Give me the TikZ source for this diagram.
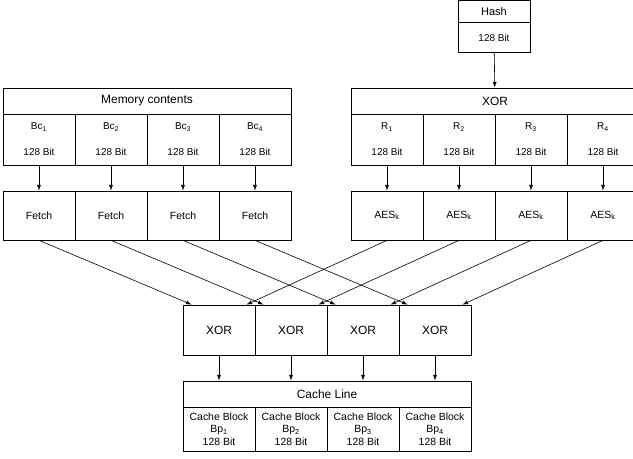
\documentclass[tikz,border=0pt]{standalone}
\usepackage{fontspec}
\setmainfont{Liberation Sans}
\usepackage{tikz}
\usetikzlibrary{arrows}
\usetikzlibrary{arrows.meta}

\begin{document}
\begin{tikzpicture}[x=1bp,y=-1bp]
\tikzset{>={Latex[width=1.4mm,length=2mm]}}
\tikzstyle{box} =[draw, rectangle, line width=0.7bp, inner sep=0pt, align=center, minimum width=72bp]
\tikzstyle{head} =[box, minimum width=288bp, minimum height=26bp, font=\fontsize{12}{14}\selectfont]
\tikzstyle{cell} =[box, minimum height=51bp, font=\fontsize{10}{12}\selectfont]
\tikzstyle{unit} =[box, minimum height=49bp, font=\fontsize{10.5}{12}\selectfont]
\tikzstyle{line} =[->, line width=0.6bp]

\useasboundingbox (0,0) rectangle (633,459);

% hash
\node[box, minimum height=22bp, font=\fontsize{11}{13}\selectfont](hash) at (494,11.5){Hash};
\node[box, minimum height=30bp, font=\fontsize{10}{12}\selectfont](hashbit) at (494,37.5){128 Bit};

% memory side
\node[head](mem) at (147,101){Memory contents};
\node[cell](bc1) at (39,139.5){Bc\textsubscript{1}\\[14pt]128 Bit};
\node[cell](bc2) at (111,139.5){Bc\textsubscript{2}\\[14pt]128 Bit};
\node[cell](bc3) at (183,139.5){Bc\textsubscript{3}\\[14pt]128 Bit};
\node[cell](bc4) at (255,139.5){Bc\textsubscript{4}\\[14pt]128 Bit};
\node[unit](f1) at (39,215.5){Fetch};
\node[unit](f2) at (111,215.5){Fetch};
\node[unit](f3) at (183,215.5){Fetch};
\node[unit](f4) at (255,215.5){Fetch};

% key side
\node[head](xr) at (495,101){XOR};
\node[cell](r1) at (387,139.5){R\textsubscript{1}\\[14pt]128 Bit};
\node[cell](r2) at (459,139.5){R\textsubscript{2}\\[14pt]128 Bit};
\node[cell](r3) at (531,139.5){R\textsubscript{3}\\[14pt]128 Bit};
\node[cell](r4) at (603,139.5){R\textsubscript{4}\\[14pt]128 Bit};
\node[unit](a1) at (387,215.5){AES\textsubscript{k}};
\node[unit](a2) at (459,215.5){AES\textsubscript{k}};
\node[unit](a3) at (531,215.5){AES\textsubscript{k}};
\node[unit](a4) at (603,215.5){AES\textsubscript{k}};

% combine
\node[box, minimum height=50bp, font=\fontsize{12}{14}\selectfont](x1) at (219,330){XOR};
\node[box, minimum height=50bp, font=\fontsize{12}{14}\selectfont](x2) at (291,330){XOR};
\node[box, minimum height=50bp, font=\fontsize{12}{14}\selectfont](x3) at (363,330){XOR};
\node[box, minimum height=50bp, font=\fontsize{12}{14}\selectfont](x4) at (435,330){XOR};

% cache line
\node[head](cl) at (327,394){Cache Line};
\node[box, minimum height=44bp, font=\fontsize{10.5}{12.5}\selectfont](bp1) at (219,429){Cache Block\\Bp\textsubscript{1}\\128 Bit};
\node[box, minimum height=44bp, font=\fontsize{10.5}{12.5}\selectfont](bp2) at (291,429){Cache Block\\Bp\textsubscript{2}\\128 Bit};
\node[box, minimum height=44bp, font=\fontsize{10.5}{12.5}\selectfont](bp3) at (363,429){Cache Block\\Bp\textsubscript{3}\\128 Bit};
\node[box, minimum height=44bp, font=\fontsize{10.5}{12.5}\selectfont](bp4) at (435,429){Cache Block\\Bp\textsubscript{4}\\128 Bit};

\draw [line] (hashbit) to (xr);

\draw [line] (bc1) to (f1);
\draw [line] (bc2) to (f2);
\draw [line] (bc3) to (f3);
\draw [line] (bc4) to (f4);
\draw [line] (r1) to (a1);
\draw [line] (r2) to (a2);
\draw [line] (r3) to (a3);
\draw [line] (r4) to (a4);

\draw [line] (f1.south) to ([xshift=9bp]x1.north west);
\draw [line] (f2.south) to ([xshift=9bp]x2.north west);
\draw [line] (f3.south) to ([xshift=9bp]x3.north west);
\draw [line] (f4.south) to ([xshift=9bp]x4.north west);
\draw [line] (a1.south) to ([xshift=-9bp]x1.north east);
\draw [line] (a2.south) to ([xshift=-9bp]x2.north east);
\draw [line] (a3.south) to ([xshift=-9bp]x3.north east);
\draw [line] (a4.south) to ([xshift=-9bp]x4.north east);

\draw [line] (x1) to (x1 |- cl.north);
\draw [line] (x2) to (x2 |- cl.north);
\draw [line] (x3) to (x3 |- cl.north);
\draw [line] (x4) to (x4 |- cl.north);
\end{tikzpicture}
\end{document}
